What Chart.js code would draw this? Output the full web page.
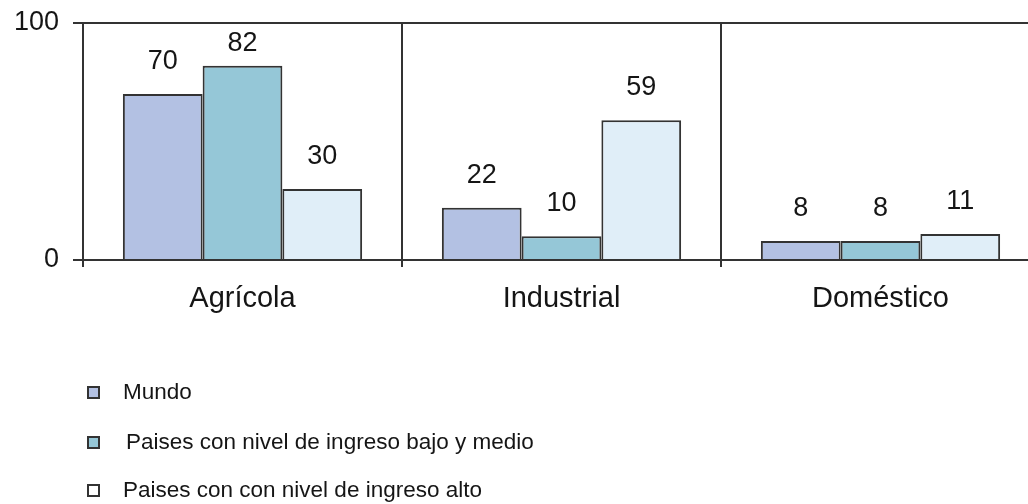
<!DOCTYPE html>
<html>
<head>
<meta charset="utf-8">
<script src="https://cdn.jsdelivr.net/npm/chart.js@4.4.1/dist/chart.umd.min.js"></script>
<style>
  html, body { margin: 0; padding: 0; background: #ffffff; overflow: hidden; width: 1028px; height: 504px; }
  #wrap { position: absolute; left: 0; top: 0; width: 1045px; height: 504px; }
  #legend { position: absolute; left: 0; top: 0; font-family: "Liberation Sans", Arial, sans-serif; font-size: 22.5px; color: #151515; }
  .item { position: absolute; height: 26px; line-height: 26px; white-space: nowrap; }
  .sw { position: absolute; width: 9px; height: 9px; border: 2px solid #333; top: 7px; }
  .tx { position: absolute; top: 0; }
</style>
</head>
<body>
<div id="wrap"><canvas id="c" width="1045" height="504"></canvas></div>
<div id="legend"></div>
<script>
const categories = ['Agrícola', 'Industrial', 'Doméstico'];
const mundo = [70, 22, 8];
const bajoMedio = [82, 10, 8];
const alto = [30, 59, 11];
const seriesNames = ['Mundo', 'Paises con nivel de ingreso bajo y medio', 'Paises con con nivel de ingreso alto'];
const seriesColors = ['#b3c1e3', '#95c7d7', '#e0eef8'];
const yTicks = [0, 100];

const FONT = '"Liberation Sans", Arial, sans-serif';
const INK = '#151515';
const LINE = '#333333';

const valueLabels = {
  id: 'valueLabels',
  afterDatasetsDraw(chart) {
    const ctx = chart.ctx;
    ctx.save();
    ctx.font = '27px ' + FONT;
    ctx.fillStyle = INK;
    ctx.textAlign = 'center';
    ctx.textBaseline = 'alphabetic';
    chart.data.datasets.forEach((ds, di) => {
      const meta = chart.getDatasetMeta(di);
      meta.data.forEach((bar, i) => {
        const y = Math.max(bar.y - 25, chart.chartArea.top + 28);
        ctx.fillText(String(ds.data[i]), bar.x, y);
      });
    });
    ctx.restore();
  }
};

const chart = new Chart(document.getElementById('c'), {
  type: 'bar',
  data: {
    labels: categories,
    datasets: [mundo, bajoMedio, alto].map((d, i) => ({
      label: seriesNames[i],
      data: d,
      backgroundColor: seriesColors[i],
      borderColor: LINE,
      borderWidth: 2,
      borderSkipped: 'bottom',
      categoryPercentage: 0.75,
      barPercentage: 1.0
    }))
  },
  options: {
    responsive: false,
    animation: false,
    devicePixelRatio: 1,
    layout: { padding: { top: 23, right: 5, left: 0, bottom: 0 } },
    plugins: { legend: { display: false }, tooltip: { enabled: false } },
    scales: {
      x: {
        offset: true,
        grid: { display: true, offset: true, color: LINE, lineWidth: 2, drawTicks: true, tickLength: 7, tickColor: LINE },
        border: { display: true, color: LINE, width: 2 },
        ticks: { color: INK, font: { family: FONT, size: 29 }, padding: 15, maxRotation: 0 },
        afterFit(s) { s.height = 244; s.paddingLeft = 0; s.paddingRight = 0; }
      },
      y: {
        min: 0, max: 100,
        afterBuildTicks(s) { s.ticks = yTicks.map(v => ({ value: v })); },
        grid: { display: true, color: LINE, lineWidth: 2, drawTicks: true, tickLength: 10, tickColor: LINE },
        border: { display: true, color: LINE, width: 2 },
        ticks: { color: INK, font: { family: FONT, size: 27 }, padding: 14 },
        afterFit(s) { s.width = 83; s.paddingTop = 0; s.paddingBottom = 0; }
      }
    }
  },
  plugins: [valueLabels]
});

const legendRows = [392, 442, 490];
const legendTextX = [123, 126, 123];
const lg = document.getElementById('legend');
seriesNames.forEach((name, i) => {
  const it = document.createElement('div');
  it.className = 'item';
  it.style.top = (legendRows[i] - 13) + 'px';
  it.style.left = '0px';
  const sw = document.createElement('div');
  sw.className = 'sw';
  sw.style.left = '87px';
  sw.style.background = i === 2 ? '#ffffff' : seriesColors[i];
  const tx = document.createElement('div');
  tx.className = 'tx';
  tx.style.left = legendTextX[i] + 'px';
  tx.textContent = name;
  it.appendChild(sw);
  it.appendChild(tx);
  lg.appendChild(it);
});
</script>
</body>
</html>
